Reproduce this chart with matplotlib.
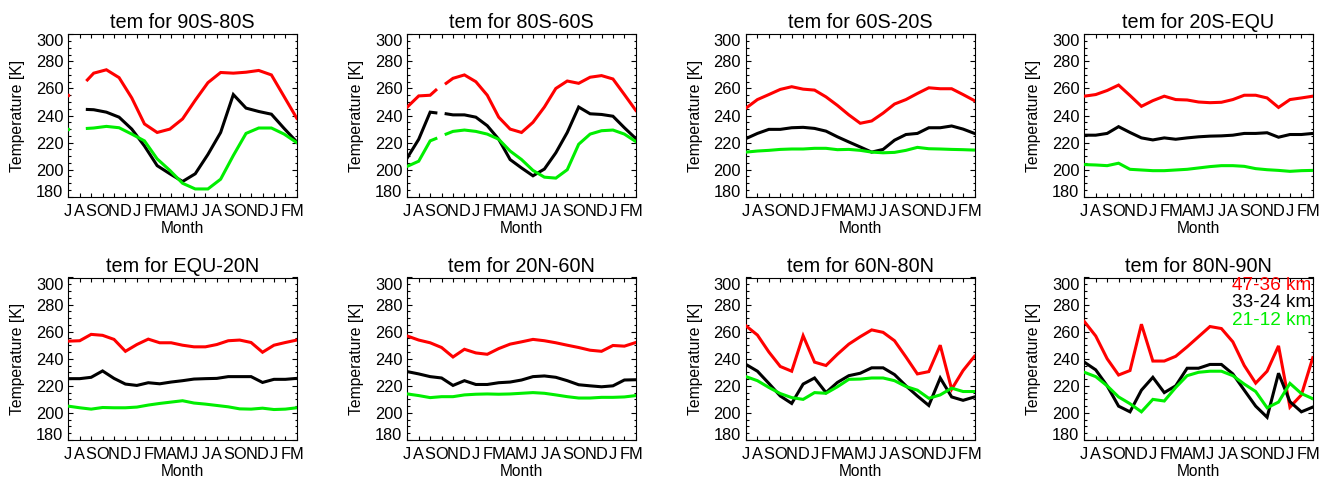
import numpy as np
import matplotlib
matplotlib.use('Agg')
import matplotlib.pyplot as plt
from matplotlib.ticker import MultipleLocator

plt.rcParams['font.family'] = ['Liberation Sans', 'DejaVu Sans']

nan = np.nan

months = ['J', 'A', 'S', 'O', 'N', 'D', 'J', 'F', 'M', 'A', 'M',
          'J', 'J', 'A', 'S', 'O', 'N', 'D', 'J', 'F', 'M']
regions = ['90S-80S', '80S-60S', '60S-20S', '20S-EQU',
           'EQU-20N', '20N-60N', '60N-80N', '80N-90N']
layers = ['47-36 km', '33-24 km', '21-12 km']
layer_colors = ['#ff0000', '#000000', '#00ee00']

# sample index along the time axis for each panel
x_90s80s = [0, 1, 1.5, 2, 3, 4, 5, 6, 7, 8, 9, 10, 11, 12, 13, 14, 15, 16, 17, 18]
x_80s60s = [0, 1, 2, 2.5, 3, 3.4, 4, 5, 6, 7, 8, 9, 10, 11, 12, 13, 14, 15, 16, 17, 18, 19, 20]
x_monthly = [0, 1, 2, 3, 4, 5, 6, 7, 8, 9, 10, 11, 12, 13, 14, 15, 16, 17, 18, 19, 20]
span_90s80s = 18
span_monthly = 20

# 90S-80S
red_90s80s = [255, nan, 266.3, 271.3, 273.8, 268.0, 253.0, 233.8, 227.5, 230.0, 237.5,
              251.3, 264.3, 271.8, 271.3, 272.0, 273.3, 270.0, 254.0, 238.0]
blk_90s80s = [nan, nan, 244.5, 244.3, 242.5, 238.8, 230.0, 217.5, 203.0, 197.0, 191.3,
              197.0, 211.3, 227.5, 255.5, 245.5, 243.0, 241.0, 230.5, 220.5]
grn_90s80s = [230, nan, 230.5, 230.8, 232.0, 231.0, 226.3, 221.3, 208.0, 199.5, 190.0,
              185.8, 185.8, 193.0, 210.5, 226.8, 230.8, 230.8, 226.3, 220.0]
# 80S-60S
red_80s60s = [246.3, 254.5, 255.0, 258.8, nan, 263.8, 267.5, 270.0, 265.0, 255.0, 238.8,
              230.0, 227.5, 235.0, 246.3, 260.0, 265.5, 263.8, 268.3, 269.5, 267.0, 255.5, 243.8]
blk_80s60s = [208.8, 222.5, 242.5, 242.0, nan, 241.3, 240.5, 240.5, 238.8, 232.5, 222.5,
              207.5, 201.3, 195.5, 200.5, 212.5, 227.5, 246.3, 241.3, 240.8, 239.5, 231.0, 223.0]
grn_80s60s = [202.5, 206.3, 221.3, 223.0, nan, 226.3, 228.3, 229.3, 228.3, 226.3, 222.5,
              213.8, 207.5, 199.5, 194.5, 193.8, 200.0, 218.8, 226.3, 228.8, 229.3, 226.3, 220.8]
# 60S-20S
red_60s20s = [245.5, 251.8, 255.5, 259.3, 261.3, 259.5, 258.8, 253.8, 247.5, 240.5, 234.3,
              236.0, 241.8, 248.5, 251.8, 256.3, 260.5, 259.8, 259.8, 255.5, 251.0]
blk_60s20s = [223.0, 226.8, 229.8, 229.8, 231.0, 231.3, 230.5, 228.5, 224.3, 220.5, 216.8,
              213.0, 215.0, 221.8, 226.0, 226.8, 231.0, 231.0, 232.3, 230.0, 226.8]
grn_60s20s = [213.0, 213.8, 214.3, 215.0, 215.3, 215.3, 215.8, 215.8, 214.8, 215.0, 214.3,
              213.0, 212.5, 212.8, 214.3, 216.5, 215.5, 215.3, 215.0, 214.8, 214.5]
# 20S-EQU
red_20sequ = [254.3, 255.5, 258.5, 262.5, 254.8, 246.8, 251.0, 254.3, 251.8, 251.5, 250.0,
              249.5, 249.8, 251.8, 255.0, 255.0, 253.0, 246.0, 251.8, 253.0, 254.3]
blk_20sequ = [225.5, 225.5, 226.8, 231.8, 227.5, 223.5, 222.0, 223.5, 222.5, 223.5, 224.3,
              224.8, 225.0, 225.5, 226.8, 226.8, 227.3, 224.0, 226.0, 226.0, 226.8]
grn_20sequ = [203.8, 203.5, 203.0, 204.8, 200.3, 199.8, 199.3, 199.3, 199.8, 200.3, 201.3,
              202.3, 203.0, 203.0, 202.5, 200.8, 200.0, 199.5, 198.8, 199.3, 199.5]
# EQU-20N
red_equ20n = [253.0, 253.3, 258.0, 257.3, 254.3, 245.5, 250.5, 254.5, 251.8, 251.8, 250.0,
              248.8, 248.8, 250.5, 253.3, 253.8, 252.0, 244.8, 250.0, 252.0, 253.8]
blk_equ20n = [225.3, 225.3, 226.3, 231.0, 225.5, 221.3, 220.3, 222.3, 221.5, 222.8, 223.8,
              225.0, 225.3, 225.5, 226.8, 226.8, 226.8, 222.5, 224.8, 224.8, 225.5]
grn_equ20n = [205.0, 203.8, 202.8, 204.0, 203.8, 203.8, 204.3, 205.8, 207.0, 208.0, 209.0,
              207.3, 206.5, 205.5, 204.5, 203.0, 202.8, 203.5, 202.5, 202.8, 203.8]
# 20N-60N
red_20n60n = [256.8, 253.8, 251.8, 248.3, 241.3, 247.0, 244.3, 243.3, 247.5, 250.8, 252.5,
              254.3, 253.3, 251.8, 250.0, 248.3, 246.3, 245.5, 249.8, 249.3, 252.0]
blk_20n60n = [230.5, 228.8, 226.8, 225.8, 220.3, 223.8, 221.0, 221.0, 222.3, 222.8, 224.3,
              226.8, 227.3, 226.3, 223.8, 220.8, 220.0, 219.3, 220.0, 224.3, 224.5]
grn_20n60n = [214.0, 212.8, 211.3, 212.0, 212.0, 213.3, 213.8, 214.0, 213.8, 214.0, 214.5,
              215.0, 214.5, 213.3, 212.0, 211.0, 211.0, 211.5, 211.5, 211.8, 212.8]
# 60N-80N
red_60n80n = [264.3, 257.5, 245.0, 234.3, 230.8, 257.0, 237.5, 235.0, 243.3, 250.8, 256.3,
              261.3, 259.5, 253.3, 241.3, 228.8, 230.5, 250.0, 217.5, 231.3, 241.8]
blk_60n80n = [235.8, 230.8, 221.8, 212.5, 207.0, 221.3, 225.8, 215.0, 222.5, 227.5, 229.3,
              233.3, 233.3, 228.3, 220.0, 212.5, 205.5, 225.8, 211.8, 209.3, 211.8]
grn_60n80n = [226.8, 223.8, 218.8, 214.3, 211.3, 210.0, 215.0, 214.5, 219.3, 224.8, 225.0,
              225.8, 225.8, 223.8, 219.5, 216.8, 210.8, 213.3, 218.3, 215.8, 215.8]
# 80N-90N
red_80n90n = [267.5, 256.8, 240.0, 228.0, 231.3, 265.5, 238.3, 238.3, 241.8, 248.8, 256.3,
              263.8, 262.3, 252.5, 235.0, 222.0, 230.8, 249.5, 204.3, 213.3, 240.8]
blk_80n90n = [237.5, 231.8, 220.0, 205.0, 200.8, 216.8, 226.3, 215.0, 220.0, 233.0, 233.0,
              235.8, 235.8, 228.8, 216.8, 205.0, 196.8, 229.3, 208.3, 200.8, 204.3]
grn_80n90n = [230.0, 226.8, 220.0, 211.8, 206.8, 200.8, 210.0, 208.8, 218.8, 227.5, 230.0,
              230.8, 230.8, 227.5, 221.3, 215.8, 203.8, 208.0, 221.8, 214.3, 210.5]

panels = [
    (x_90s80s, span_90s80s, [red_90s80s, blk_90s80s, grn_90s80s]),
    (x_80s60s, span_monthly, [red_80s60s, blk_80s60s, grn_80s60s]),
    (x_monthly, span_monthly, [red_60s20s, blk_60s20s, grn_60s20s]),
    (x_monthly, span_monthly, [red_20sequ, blk_20sequ, grn_20sequ]),
    (x_monthly, span_monthly, [red_equ20n, blk_equ20n, grn_equ20n]),
    (x_monthly, span_monthly, [red_20n60n, blk_20n60n, grn_20n60n]),
    (x_monthly, span_monthly, [red_60n80n, blk_60n80n, grn_60n80n]),
    (x_monthly, span_monthly, [red_80n90n, blk_80n90n, grn_80n90n]),
]

W, H = 1322, 478
fig = plt.figure(figsize=(W / 100, H / 100), dpi=100)

col_left = [68.3, 407.3, 746.0, 1084.3]
row_top = [34.3, 277.5]
ax_w, ax_h = 228.5, 162.5

TICK_FS = 11.8
for i, (xs, span, series) in enumerate(panels):
    r, c = divmod(i, 4)
    left = col_left[c] / W
    bottom = 1 - (row_top[r] + ax_h) / H
    ax = fig.add_axes([left, bottom, ax_w / W, ax_h / H])
    xs = np.array(xs, dtype=float)
    for ys, col in zip(series, layer_colors):
        ys = np.array(ys, dtype=float)
        ax.plot(xs, ys, color=col, lw=2.2, solid_joinstyle='miter', zorder=3)
        # isolated valid samples (neighbours missing)
        fin = np.isfinite(ys)
        for k in range(len(ys)):
            if fin[k]:
                prev_ok = k > 0 and fin[k - 1]
                next_ok = k < len(ys) - 1 and fin[k + 1]
                if not prev_ok and not next_ok:
                    ax.plot([xs[k]], [ys[k]], marker='o', ms=2.6, color=col,
                            mec='none', zorder=3)
    ax.set_xlim(0, span)
    ax.set_ylim(180, 300)
    ax.set_xticks(np.linspace(0, span, len(months)))
    ax.set_xticklabels(months, fontsize=TICK_FS)
    ax.set_yticks(np.arange(180, 301, 20))
    ax.set_yticklabels([str(v) for v in range(180, 301, 20)], fontsize=TICK_FS)
    ax.yaxis.set_minor_locator(MultipleLocator(5))
    ax.tick_params(which='both', direction='in', top=True, right=True, width=0.8,
                   color='black')
    ax.tick_params(axis='x', which='major', length=2.6, pad=5)
    ax.tick_params(axis='y', which='major', length=3.5, pad=3.6)
    ax.tick_params(axis='y', which='minor', length=1.8)
    ylabs = ax.get_yticklabels()
    ylabs[-1].set_va('top')
    ylabs[0].set_va('baseline')
    for sp in ax.spines.values():
        sp.set_linewidth(0.8)
    ax.set_title('tem for ' + regions[i], fontsize=14.3, pad=4.3)
    ax.set_ylabel('Temperature [K]', fontsize=11.3)
    ax.yaxis.set_label_coords(-0.19, 0.5)
    ax.set_xlabel('Month', fontsize=11.2)
    ax.xaxis.set_label_coords(0.5, -0.15)
    if i == 7:
        for lab, col, yy in zip(layers, layer_colors, [0.948, 0.845, 0.738]):
            ax.text(0.995, yy, lab, transform=ax.transAxes, ha='right', va='center',
                    color=col, fontsize=13.7)

fig.savefig('out.png', dpi=100)
